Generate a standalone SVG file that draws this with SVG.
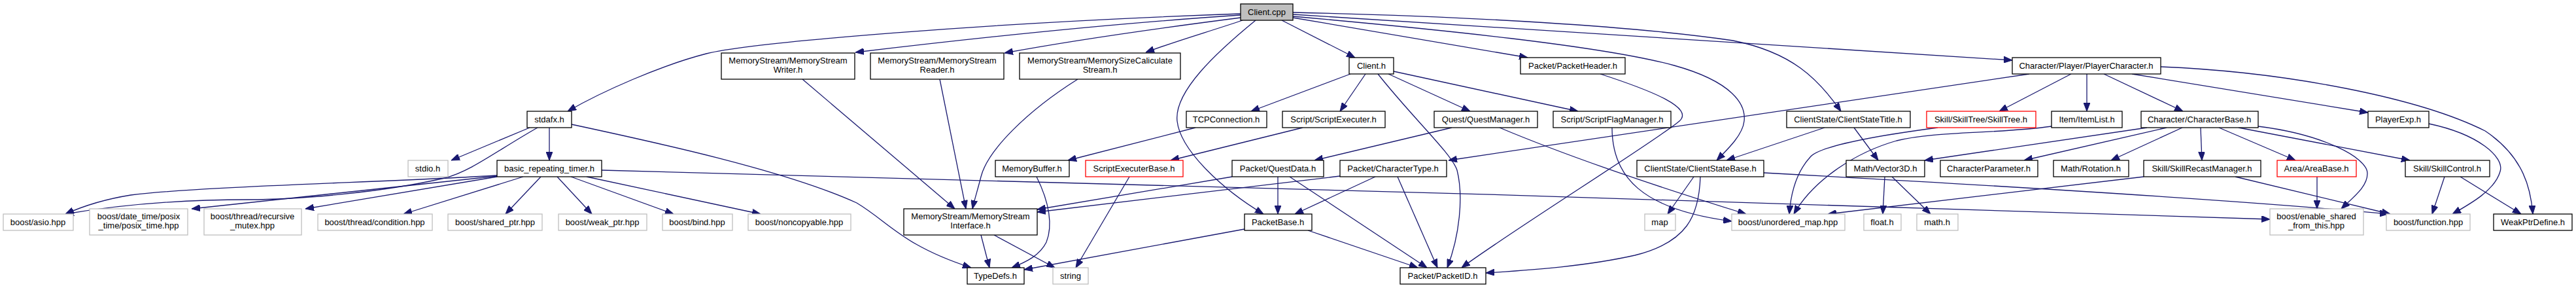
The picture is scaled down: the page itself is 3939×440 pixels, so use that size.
<svg xmlns="http://www.w3.org/2000/svg" width="3939" height="440" viewBox="0 0 3939 440">
<style>
.n rect{fill:#fff;stroke:#000;stroke-width:1.3}
.g rect{fill:#fff;stroke:#bfbfbf;stroke-width:1.3}
.r rect{fill:#fff;stroke:#ff0000;stroke-width:1.3}
.root rect{fill:#bfbfbf;stroke:#000;stroke-width:1.3}
text{font-family:"Liberation Sans",Arial,sans-serif;font-size:13px;fill:#000;text-anchor:middle}
#edges path{fill:none;stroke:#191970;stroke-width:1.3;marker-end:url(#ah)}
</style>
<defs>
<marker id="ah" viewBox="0 0 13 10" refX="13" refY="5" markerWidth="13" markerHeight="10" orient="auto" markerUnits="userSpaceOnUse"><path d="M0,0 L13,5 L0,10 z" fill="#191970" stroke="#191970" stroke-width="1"/></marker>
</defs>
<rect width="3939" height="440" fill="#fff"/>
<g id="edges">
<path d="M1897,21 C1500,35 1150,65 1080,82 C1010,100 920,140 868,170"/>
<path d="M1897,23 C1700,36 1500,57 1308,80"/>
<path d="M1897,27 C1780,42 1650,60 1536,81"/>
<path d="M1900,31 C1850,48 1800,62 1752,80"/>
<path d="M1920,31 C1860,80 1795,140 1800,185 C1805,230 1870,290 1932,327"/>
<path d="M1960,31 L2072,88"/>
<path d="M1977,27 L2336,88"/>
<path d="M1977,19 C2250,25 2500,40 2650,62 C2740,80 2780,120 2815,170"/>
<path d="M1977,22 L3077,92"/>
<path d="M1977,25 C2200,45 2450,70 2560,100 C2650,125 2670,160 2667,185 C2665,205 2645,225 2625,245"/>
<path d="M2447,113 C2530,140 2590,165 2568,185 C2540,210 2300,360 2235,409"/>
<path d="M3103,113 L2215,245"/>
<path d="M3304,102 C3500,110 3700,150 3800,200 C3860,240 3870,290 3873,327"/>
<path d="M3260,113 L3621,172"/>
<path d="M3167,113 L3057,170"/>
<path d="M3191,113 L3191,170"/>
<path d="M3217,113 L3338,170"/>
<path d="M2065,113 L1913,170"/>
<path d="M2088,113 L2049,170"/>
<path d="M2107,113 C2160,180 2220,235 2228,260 C2238,300 2232,360 2213,409"/>
<path d="M2123,113 L2248,170"/>
<path d="M2131,109 L2413,170"/>
<path d="M2220,195 L2010,245"/>
<path d="M2293,195 C2400,240 2550,290 2670,327"/>
<path d="M2465,195 C2465,270 2510,320 2648,338"/>
<path d="M2790,195 L2640,245"/>
<path d="M2835,195 L2872,245"/>
<path d="M2963,195 C2850,210 2780,225 2768,240 C2745,265 2738,300 2736,327"/>
<path d="M3137,193 C3050,205 2960,200 2900,215 C2830,235 2770,280 2743,327"/>
<path d="M2882,270 L2879,327"/>
<path d="M2893,270 L2952,327"/>
<path d="M3283,195 L2943,245"/>
<path d="M3313,195 L3095,245"/>
<path d="M3337,195 L3228,245"/>
<path d="M3365,195 L3367,245"/>
<path d="M3393,195 L3510,245"/>
<path d="M3423,195 L3685,245"/>
<path d="M3453,193 C3550,205 3620,240 3620,265 C3620,285 3600,300 3580,319"/>
<path d="M3278,270 L2795,327"/>
<path d="M3418,270 L3655,327"/>
<path d="M2590,270 L2550,327"/>
<path d="M2600,270 C2598,330 2580,370 2500,390 C2420,408 2330,413 2272,417"/>
<path d="M2697,264 C3100,286 3450,308 3652,327"/>
<path d="M3738,270 L3719,327"/>
<path d="M3762,270 L3855,327"/>
<path d="M3714,189 C3790,205 3830,240 3823,262 C3815,290 3780,310 3750,327"/>
<path d="M3543,270 L3543,319"/>
<path d="M810,195 L690,245"/>
<path d="M840,195 L840,245"/>
<path d="M822,195 C760,230 720,262 680,272 C580,295 450,305 380,305 C300,305 200,310 100,327"/>
<path d="M874,190 C1000,217 1200,260 1310,310 C1360,340 1380,375 1485,409"/>
<path d="M760,268 C600,278 300,285 200,298 C150,306 120,318 100,327"/>
<path d="M760,269 L293,319"/>
<path d="M760,270 L467,319"/>
<path d="M800,270 L617,327"/>
<path d="M827,270 L773,327"/>
<path d="M852,270 L905,327"/>
<path d="M873,270 L1030,327"/>
<path d="M897,270 L1163,327"/>
<path d="M920,260 C1500,275 2800,310 3471,335"/>
<path d="M1227,121 L1460,319"/>
<path d="M1437,121 L1477,319"/>
<path d="M1648,121 C1570,170 1510,230 1500,270 C1495,290 1490,305 1487,319"/>
<path d="M1500,359 L1513,409"/>
<path d="M1520,359 L1613,409"/>
<path d="M1884,270 L1586,320"/>
<path d="M2049,269 L1586,324"/>
<path d="M1585,270 C1605,310 1610,345 1600,370 C1590,390 1570,400 1547,409"/>
<path d="M1727,270 L1645,409"/>
<path d="M1828,195 L1633,245"/>
<path d="M1992,195 L1790,245"/>
<path d="M1954,270 L1954,327"/>
<path d="M1972,270 L2182,409"/>
<path d="M2103,270 L1980,327"/>
<path d="M2137,270 L2198,409"/>
<path d="M2000,352 L2168,409"/>
<path d="M1903,350 L1566,412"/>
</g>
<g id="client_cpp" class="root"><rect x="1897" y="6" width="80" height="25"/><text x="1937" y="23">Client.cpp</text></g>
<g id="ms_writer" class="n"><rect x="1103" y="81" width="204" height="40"/><text x="1205" y="97">MemoryStream/MemoryStream</text><text x="1205" y="111">Writer.h</text></g>
<g id="ms_reader" class="n"><rect x="1331" y="81" width="204" height="40"/><text x="1433" y="97">MemoryStream/MemoryStream</text><text x="1433" y="111">Reader.h</text></g>
<g id="ms_sizecalc" class="n"><rect x="1559" y="81" width="246" height="40"/><text x="1682" y="97">MemoryStream/MemorySizeCaliculate</text><text x="1682" y="111">Stream.h</text></g>
<g id="client_h" class="n"><rect x="2063" y="88" width="68" height="25"/><text x="2097" y="105">Client.h</text></g>
<g id="packet_header" class="n"><rect x="2325" y="88" width="160" height="25"/><text x="2405" y="105">Packet/PacketHeader.h</text></g>
<g id="player_character" class="n"><rect x="3077" y="88" width="227" height="25"/><text x="3190" y="105">Character/Player/PlayerCharacter.h</text></g>
<g id="stdafx" class="n"><rect x="806" y="170" width="68" height="25"/><text x="840" y="187">stdafx.h</text></g>
<g id="tcpconnection" class="n"><rect x="1814" y="170" width="123" height="25"/><text x="1875" y="187">TCPConnection.h</text></g>
<g id="script_executer" class="n"><rect x="1961" y="170" width="157" height="25"/><text x="2039" y="187">Script/ScriptExecuter.h</text></g>
<g id="quest_manager" class="n"><rect x="2193" y="170" width="158" height="25"/><text x="2272" y="187">Quest/QuestManager.h</text></g>
<g id="script_flag_manager" class="n"><rect x="2375" y="170" width="180" height="25"/><text x="2465" y="187">Script/ScriptFlagManager.h</text></g>
<g id="client_state_title" class="n"><rect x="2732" y="170" width="189" height="25"/><text x="2826" y="187">ClientState/ClientStateTitle.h</text></g>
<g id="skill_tree" class="r"><rect x="2946" y="170" width="167" height="25"/><text x="3029" y="187">Skill/SkillTree/SkillTree.h</text></g>
<g id="item_list" class="n"><rect x="3137" y="170" width="108" height="25"/><text x="3191" y="187">Item/ItemList.h</text></g>
<g id="character_base" class="n"><rect x="3274" y="170" width="179" height="25"/><text x="3363" y="187">Character/CharacterBase.h</text></g>
<g id="player_exp" class="n"><rect x="3621" y="170" width="93" height="25"/><text x="3667" y="187">PlayerExp.h</text></g>
<g id="stdio" class="g"><rect x="624" y="245" width="61" height="25"/><text x="654" y="262">stdio.h</text></g>
<g id="basic_repeating_timer" class="n"><rect x="760" y="245" width="160" height="25"/><text x="840" y="262">basic_repeating_timer.h</text></g>
<g id="memory_buffer" class="n"><rect x="1522" y="245" width="113" height="25"/><text x="1578" y="262">MemoryBuffer.h</text></g>
<g id="script_executer_base" class="r"><rect x="1660" y="245" width="149" height="25"/><text x="1734" y="262">ScriptExecuterBase.h</text></g>
<g id="quest_data" class="n"><rect x="1884" y="245" width="140" height="25"/><text x="1954" y="262">Packet/QuestData.h</text></g>
<g id="character_type" class="n"><rect x="2049" y="245" width="163" height="25"/><text x="2130" y="262">Packet/CharacterType.h</text></g>
<g id="client_state_base" class="n"><rect x="2503" y="245" width="194" height="25"/><text x="2600" y="262">ClientState/ClientStateBase.h</text></g>
<g id="vector3d" class="n"><rect x="2823" y="245" width="120" height="25"/><text x="2883" y="262">Math/Vector3D.h</text></g>
<g id="character_parameter" class="n"><rect x="2967" y="245" width="149" height="25"/><text x="3041" y="262">CharacterParameter.h</text></g>
<g id="rotation" class="n"><rect x="3140" y="245" width="115" height="25"/><text x="3197" y="262">Math/Rotation.h</text></g>
<g id="skill_recast_manager" class="n"><rect x="3278" y="245" width="179" height="25"/><text x="3367" y="262">Skill/SkillRecastManager.h</text></g>
<g id="area_base" class="r"><rect x="3482" y="245" width="121" height="25"/><text x="3542" y="262">Area/AreaBase.h</text></g>
<g id="skill_control" class="n"><rect x="3678" y="245" width="129" height="25"/><text x="3742" y="262">Skill/SkillControl.h</text></g>
<g id="boost_asio" class="g"><rect x="5" y="327" width="107" height="25"/><text x="58" y="344">boost/asio.hpp</text></g>
<g id="boost_posix_time" class="g"><rect x="137" y="319" width="150" height="40"/><text x="212" y="335">boost/date_time/posix</text><text x="212" y="349">_time/posix_time.hpp</text></g>
<g id="boost_recursive_mutex" class="g"><rect x="312" y="319" width="149" height="40"/><text x="386" y="335">boost/thread/recursive</text><text x="386" y="349">_mutex.hpp</text></g>
<g id="boost_condition" class="g"><rect x="486" y="327" width="175" height="25"/><text x="573" y="344">boost/thread/condition.hpp</text></g>
<g id="boost_shared_ptr" class="g"><rect x="685" y="327" width="144" height="25"/><text x="757" y="344">boost/shared_ptr.hpp</text></g>
<g id="boost_weak_ptr" class="g"><rect x="854" y="327" width="135" height="25"/><text x="921" y="344">boost/weak_ptr.hpp</text></g>
<g id="boost_bind" class="g"><rect x="1013" y="327" width="107" height="25"/><text x="1066" y="344">boost/bind.hpp</text></g>
<g id="boost_noncopyable" class="g"><rect x="1144" y="327" width="157" height="25"/><text x="1222" y="344">boost/noncopyable.hpp</text></g>
<g id="ms_interface" class="n"><rect x="1382" y="319" width="204" height="40"/><text x="1484" y="335">MemoryStream/MemoryStream</text><text x="1484" y="349">Interface.h</text></g>
<g id="packet_base" class="n"><rect x="1903" y="327" width="103" height="25"/><text x="1954" y="344">PacketBase.h</text></g>
<g id="map" class="g"><rect x="2515" y="327" width="47" height="25"/><text x="2538" y="344">map</text></g>
<g id="boost_unordered_map" class="g"><rect x="2648" y="327" width="173" height="25"/><text x="2734" y="344">boost/unordered_map.hpp</text></g>
<g id="float_h" class="g"><rect x="2850" y="327" width="57" height="25"/><text x="2878" y="344">float.h</text></g>
<g id="math_h" class="g"><rect x="2931" y="327" width="63" height="25"/><text x="2962" y="344">math.h</text></g>
<g id="boost_enable_shared" class="g"><rect x="3471" y="319" width="143" height="40"/><text x="3542" y="335">boost/enable_shared</text><text x="3542" y="349">_from_this.hpp</text></g>
<g id="boost_function" class="g"><rect x="3649" y="327" width="128" height="25"/><text x="3713" y="344">boost/function.hpp</text></g>
<g id="weak_ptr_define" class="n"><rect x="3813" y="327" width="120" height="25"/><text x="3873" y="344">WeakPtrDefine.h</text></g>
<g id="typedefs" class="n"><rect x="1479" y="409" width="87" height="25"/><text x="1522" y="426">TypeDefs.h</text></g>
<g id="string" class="g"><rect x="1610" y="409" width="54" height="25"/><text x="1637" y="426">string</text></g>
<g id="packet_id" class="n"><rect x="2141" y="409" width="131" height="25"/><text x="2206" y="426">Packet/PacketID.h</text></g>
</svg>
